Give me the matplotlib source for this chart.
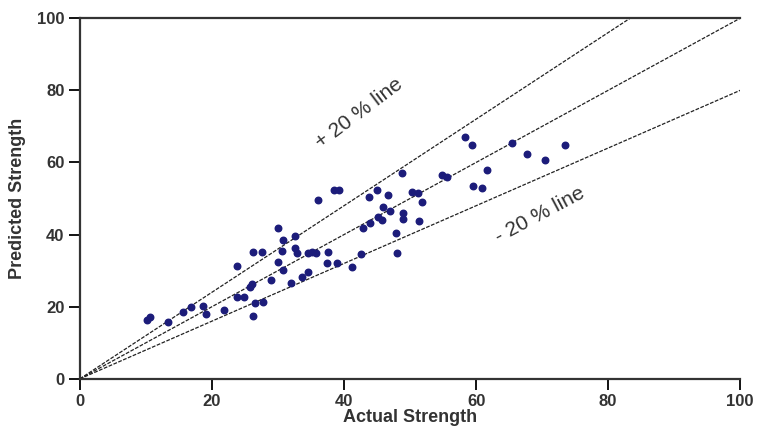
import matplotlib
matplotlib.use('Agg')
import matplotlib.pyplot as plt
import numpy as np

actual = [10.2, 10.7, 13.3, 15.7, 16.9, 18.7, 19.1, 21.9, 23.8, 23.8,
          24.8, 26.0, 25.8, 26.2, 26.5, 27.8, 28.9, 26.2, 27.6, 30.0,
          30.8, 32.6, 30.6, 32.6, 32.9, 34.5, 35.2, 35.8, 37.6, 30.0,
          30.8, 34.5, 33.7, 32.0, 37.4, 38.9, 41.2, 42.6, 36.0, 38.5,
          39.3, 42.9, 43.9, 45.2, 45.8, 43.8, 45.0, 46.7, 45.9, 47.0,
          48.9, 49.0, 47.9, 48.0, 50.3, 51.2, 51.8, 51.4, 48.8, 54.8,
          55.6, 59.5, 60.9, 61.7, 58.3, 59.4, 65.5, 67.7, 70.5, 73.5]
predicted = [16.3, 17.2, 15.7, 18.6, 19.9, 20.3, 18.1, 19.0, 31.2, 22.8,
             22.7, 26.4, 25.6, 17.5, 21.0, 21.3, 27.5, 35.2, 35.2, 41.8,
             38.5, 39.6, 35.4, 36.3, 34.9, 34.9, 35.2, 34.9, 35.2, 32.4,
             30.2, 29.6, 28.3, 26.6, 32.1, 32.1, 31.0, 34.5, 49.6, 52.4,
             52.4, 41.8, 43.2, 44.9, 44.0, 50.4, 52.4, 51.0, 47.6, 46.5,
             46.0, 44.3, 40.4, 35.0, 51.8, 51.5, 49.0, 43.8, 57.1, 56.5,
             56.0, 53.5, 52.9, 57.9, 67.0, 64.8, 65.4, 62.3, 60.7, 64.8]

ticks = [0, 20, 40, 60, 80, 100]
line_factors = [1.2, 1.0, 0.8]

plt.rcParams['font.family'] = ['Liberation Sans', 'DejaVu Sans']

fig = plt.figure(figsize=(7.6, 4.33), dpi=100)
ax = fig.add_axes([0.105, 0.125, 0.869, 0.833])

xx = np.array([0, 100])
for f in line_factors:
    ax.plot(xx, f * xx, color='#222222', lw=0.9, ls=(0, (3, 1.2)), zorder=2)

ax.scatter(actual, predicted, s=22, color='#1c1c7a', zorder=3)

ax.set_xlim(0, 100)
ax.set_ylim(0, 100)
ax.set_xticks(ticks)
ax.set_yticks(ticks)
ax.tick_params(direction='out', length=8, width=1.3, labelsize=12, pad=3)
for lab in ax.get_xticklabels() + ax.get_yticklabels():
    lab.set_fontweight('bold')
    lab.set_color('#333333')

ax.spines['right'].set_visible(False)
for s in ['left', 'bottom', 'top']:
    ax.spines[s].set_linewidth(1.6)
    ax.spines[s].set_color('#333333')

ax.set_xlabel('Actual Strength', fontsize=13, fontweight='bold', color='#333333', labelpad=0)
ax.set_ylabel('Predicted Strength', fontsize=13, fontweight='bold', color='#333333', labelpad=8)

ax.text(42.3, 73.5, '+ 20 % line', rotation=37, fontsize=15, color='#333333',
        ha='center', va='center')
ax.text(69.6, 45.5, '- 20 % line', rotation=28, fontsize=15, color='#333333',
        ha='center', va='center')

plt.savefig('out.png', dpi=100)
